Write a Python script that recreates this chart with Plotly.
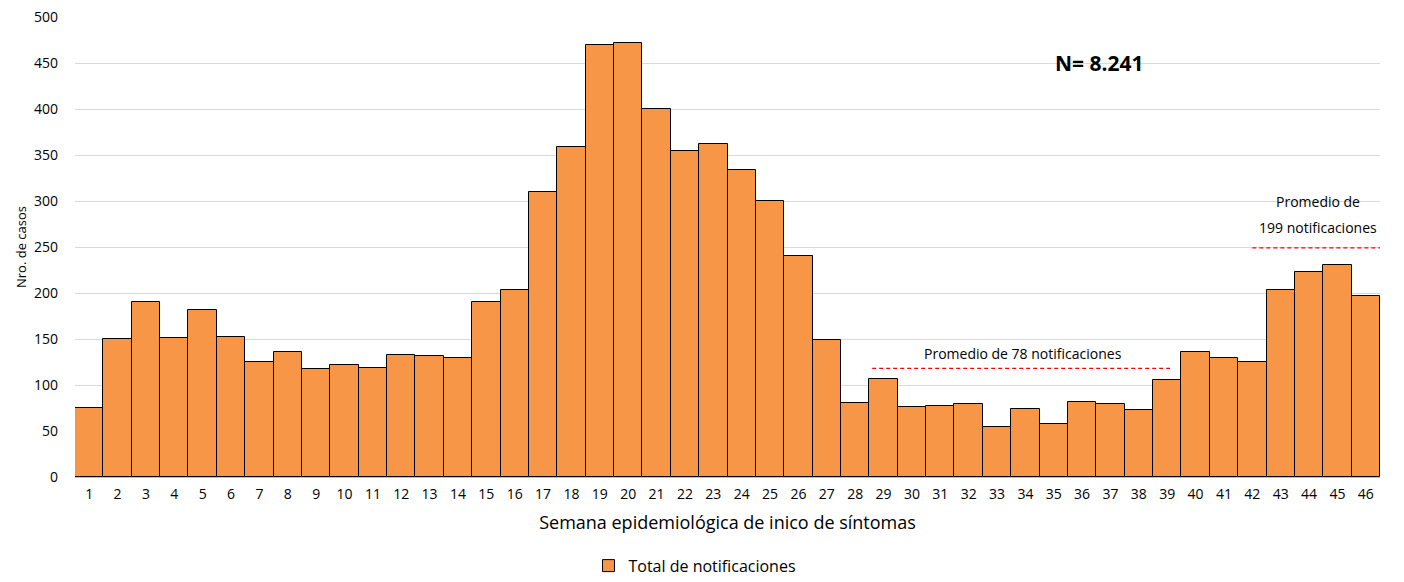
import plotly.graph_objects as go

weeks = list(range(1, 47))
casos = [75, 150, 190, 151, 181, 152, 125, 136, 117, 122,
         119, 133, 132, 129, 190, 203, 310, 359, 470, 472,
         400, 354, 362, 334, 300, 240, 149, 80, 107, 76,
         77, 79, 54, 74, 58, 82, 79, 73, 105, 136,
         129, 125, 203, 223, 230, 197]
y_ticks = list(range(0, 501, 50))

fig = go.Figure()
fig.add_trace(go.Bar(
    x=weeks, y=casos, name="Total de notificaciones",
    marker=dict(color="#F79646", line=dict(color="#000000", width=1)),
    width=1.0,
))

fig.add_shape(type="line", xref="x", yref="y", x0=28.6, x1=39.1, y0=118, y1=118,
              line=dict(color="#FF0000", width=1.2, dash="4px,3px"))
fig.add_shape(type="line", xref="x", yref="y", x0=42.0, x1=46.5, y0=249, y1=249,
              line=dict(color="#FF0000", width=1.2, dash="4px,3px"))

fig.add_annotation(x=33.9, y=134, xref="x", yref="y", text="Promedio de 78 notificaciones",
                   showarrow=False, font=dict(size=14, color="#000000"))
fig.add_annotation(x=44.3, y=300, xref="x", yref="y", text="Promedio de",
                   showarrow=False, font=dict(size=14, color="#000000"))
fig.add_annotation(x=44.3, y=271, xref="x", yref="y", text="199 notificaciones",
                   showarrow=False, font=dict(size=14, color="#000000"))
fig.add_annotation(x=36.6, y=450, xref="x", yref="y", text="<b>N= 8.241</b>",
                   showarrow=False, font=dict(size=21, color="#000000"))

fig.update_layout(
    width=1404, height=582,
    margin=dict(l=75, r=24, t=17, b=105),
    plot_bgcolor="white", paper_bgcolor="white",
    font=dict(family="Open Sans, Noto Sans, sans-serif", size=14, color="#000000"),
    bargap=0,
    showlegend=True,
    legend=dict(orientation="h", x=0.495, xanchor="center", xref="container",
                y=0.028, yanchor="middle", yref="container",
                font=dict(size=16), itemwidth=30),
    xaxis=dict(range=[0.5, 46.5], tickmode="array", tickvals=weeks,
               ticktext=[str(w) for w in weeks], showgrid=False,
               showline=True, linecolor="#BFBFBF", ticks="",
               automargin=False, ticklabelstandoff=4,
               title=dict(text="Semana epidemiológica de inico de síntomas",
                          font=dict(size=18), standoff=14),
               tickfont=dict(size=14)),
    yaxis=dict(range=[0, 500], tickmode="array", tickvals=y_ticks,
               showgrid=True, gridcolor="#D9D9D9", zeroline=False,
               automargin=False, ticklabelstandoff=16,
               title=dict(text="Nro. de casos", font=dict(size=13), standoff=4),
               tickfont=dict(size=14)),
)

fig.write_html("out.html", config={"displayModeBar": False},
               post_script="document.body.style.margin='0';document.body.style.padding='0';")
